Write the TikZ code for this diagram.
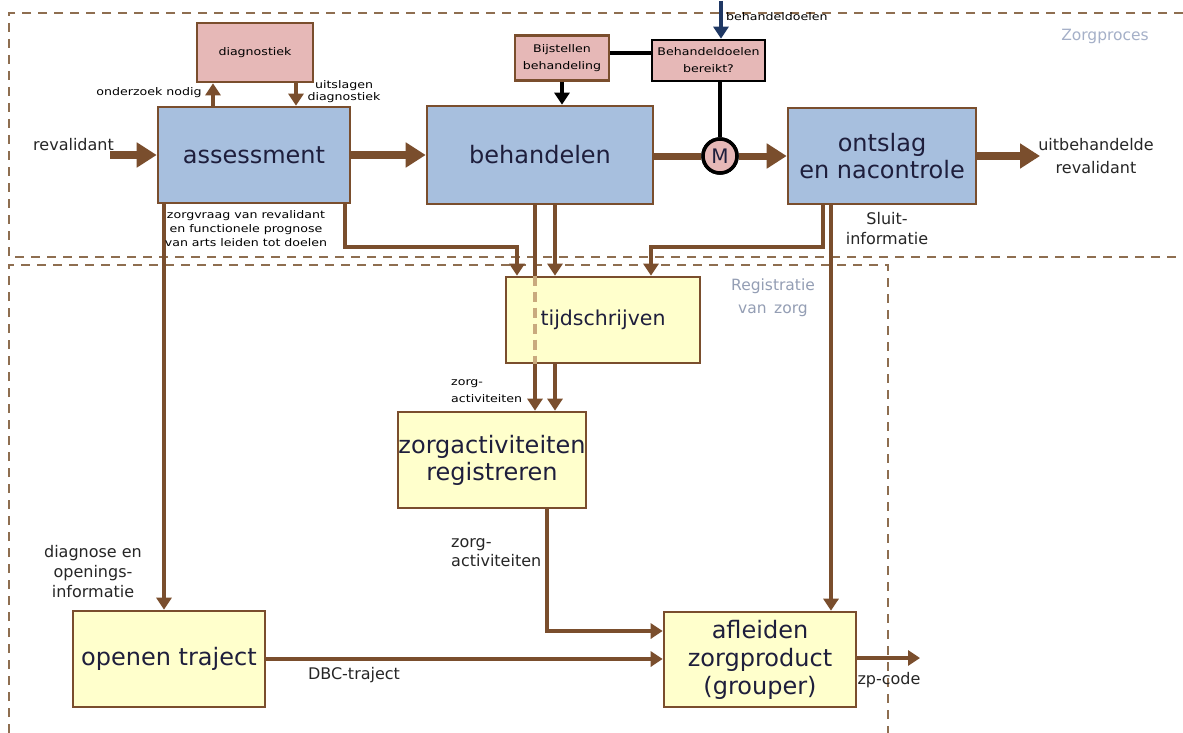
\documentclass[tikz,border=0pt]{standalone}
\usepackage{fontspec}
\setmainfont{DejaVu Sans}
\newfontfamily\tinyf[FakeStretch=1.2]{DejaVu Sans}
\usetikzlibrary{arrows.meta,calc}
\definecolor{brn}{HTML}{7A4E2D}
\definecolor{dshc}{HTML}{8E6E50}
\definecolor{bluef}{HTML}{A7BFDE}
\definecolor{pinkf}{HTML}{E6B8B7}
\definecolor{yelf}{HTML}{FFFFCC}
\definecolor{bigtxt}{HTML}{1E1E3C}
\definecolor{navy}{HTML}{1F3864}
\definecolor{lbl}{HTML}{A5B0C8}
\definecolor{tanc}{HTML}{C9AA7E}
\begin{document}
\begin{tikzpicture}[x=1pt,y=-1pt,
  box/.style={draw=brn, line width=2.6pt, inner sep=0pt, align=center, text=bigtxt, font=\fontsize{24}{27}\selectfont},
  bluebox/.style={box, fill=bluef},
  yelbox/.style={box, fill=yelf},
  pinkbox/.style={draw=brn, line width=2.6pt, fill=pinkf, inner sep=0pt, align=center, font=\tinyf\fontsize{10.5}{17}\selectfont},
  conn/.style={draw=brn, line width=4.5pt},
  tip/.style={-{Triangle[length=12pt,width=15pt]}},
  big/.style={draw=brn, line width=8pt, -{Triangle[length=20pt,width=24pt]}},
  blk/.style={draw=black, line width=4.5pt},
  dashbox/.style={draw=dshc, line width=2.2pt, dash pattern=on 9pt off 7pt},
  med/.style={font=\fontsize{16}{20}\selectfont, text=black!85, inner sep=0pt, align=center},
  tiny/.style={font=\tinyf\fontsize{10.5}{14}\selectfont, inner sep=0pt, align=center},
  grp/.style={font=\fontsize{15.5}{23}\selectfont, inner sep=0pt, align=center},
]
\useasboundingbox[fill=white] (0,0) rectangle (1183,733);

% dashed group frames
\coordinate (zpTR) at (1183,13);
\coordinate (zpTL) at (9,13);
\coordinate (zpBL) at (9,257);
\coordinate (zpBR) at (1183,257);
\draw[dashbox] (zpTR) -- (zpTL) -- (zpBL) -- (zpBR);
\coordinate (rgBL) at (9,733);
\coordinate (rgTL) at (9,265);
\coordinate (rgTR) at (888,265);
\coordinate (rgBR) at (888,733);
\draw[dashbox] (rgBL) -- (rgTL) -- (rgTR) -- (rgBR);
\node[grp, text=lbl] (lzorgproces) at (1105,36) {Zorgproces};
\node[grp, text=lbl!90!black, font=\fontsize{15.5}{23}\selectfont] (lregistratie) at (773,298) {Registratie\\van\, zorg};

% helper x/y positions
\coordinate (x164) at (164,0);
\coordinate (x213) at (213,0);
\coordinate (x296) at (296,0);
\coordinate (x345) at (345,0);
\coordinate (x517) at (517,0);
\coordinate (x535) at (535,0);
\coordinate (x555) at (555,0);
\coordinate (x547) at (547,0);
\coordinate (x651) at (651,0);
\coordinate (x823) at (823,0);
\coordinate (x831) at (831,0);
\coordinate (y247) at (0,247);
\coordinate (y631) at (0,631);
\coordinate (y53) at (0,53);

% main nodes
\node[bluebox, minimum width=192pt, minimum height=96pt] (assess) at (254,155) {assessment};
\node[bluebox, minimum width=226pt, minimum height=98pt] (behand) at (540,155) {behandelen};
\node[bluebox, minimum width=188pt, minimum height=96pt] (ontslag) at (882,156) {ontslag\\en nacontrole};
\node[pinkbox, minimum width=116pt, minimum height=59pt] (diag) at (255,52.5) {diagnostiek};
\node[pinkbox, minimum width=94pt, minimum height=45pt] (bijst) at (562,58) {Bijstellen\\behandeling};
\node[pinkbox, draw=black, minimum width=113pt, minimum height=41pt] (bereikt) at (708.5,60.5) {Behandeldoelen\\bereikt?};
\node[yelbox, minimum width=188pt, minimum height=96pt] (zreg) at (492,460) {zorgactiviteiten\\registreren};
\node[yelbox, minimum width=192pt, minimum height=96pt] (openen) at (169,659) {openen traject};
\node[yelbox, minimum width=192pt, minimum height=95pt, font=\fontsize{24}{28}\selectfont] (afl) at (760,659.5) {afleiden\\zorgproduct\\(grouper)};

% line behind tijdschrijven
\draw[conn, tip] (x535 |- behand.south) -- (x535 |- zreg.north);
\node[yelbox, minimum width=194pt, minimum height=86pt, font=\fontsize{20.5}{24}\selectfont] (tijd) at (603,320) {tijdschrijven};
\draw[tanc, line width=4.5pt, dash pattern=on 10pt off 6pt] (x535 |- tijd.north) -- (x535 |- tijd.south);

% top process flow
\coordinate (rin) at (110,155);
\draw[big] (rin) -- (rin -| assess.west);
\draw[big] (assess) -- (behand);
\node[circle, draw=black, line width=3.5pt, fill=pinkf, minimum size=34pt, inner sep=0pt, font=\fontsize{20}{20}\selectfont, text=bigtxt] (M) at (720,156) {M};
\draw[draw=brn, line width=7pt] (behand.east |- M) -- (M);
\draw[draw=brn, line width=7pt, -{Triangle[length=20pt,width=24pt]}] (M) -- (M -| ontslag.west);
\coordinate (rout) at (1040,156);
\draw[big] (ontslag) -- (rout);

% diagnostiek loop
\draw[conn, tip] (x213 |- assess.north) -- (x213 |- diag.south);
\draw[conn, tip] (x296 |- diag.south) -- (x296 |- assess.north);

% behandeldoelen control
\draw[blk, -{Triangle[length=12pt,width=15pt]}] (bijst.south) -- (bijst.south |- behand.north);
\draw[blk] (bijst.east |- y53) -- (bereikt.west |- y53);
\draw[blk] (M |- bereikt.south) -- (M);
\node[circle, draw=black, line width=3.5pt, fill=pinkf, minimum size=34pt, inner sep=0pt, font=\fontsize{20}{20}\selectfont, text=bigtxt] at (M) {M};
\coordinate (bdin) at (721,1);
\draw[navy, line width=3.5pt, -{Triangle[length=12pt,width=15pt]}] (bdin) -- (bdin |- bereikt.north);

% registration connectors
\draw[conn, tip] (x164 |- assess.south) -- (x164 |- openen.north);
\draw[conn, tip] (x345 |- assess.south) -- (x345 |- y247) -- (x517 |- y247) -- (x517 |- tijd.north);
\draw[conn, tip] (x555 |- behand.south) -- (x555 |- tijd.north);
\draw[conn, tip] (x555 |- tijd.south) -- (x555 |- zreg.north);
\draw[conn, tip] (x823 |- ontslag.south) -- (x823 |- y247) -- (x651 |- y247) -- (x651 |- tijd.north);
\draw[conn, tip] (x831 |- ontslag.south) -- (x831 |- afl.north);
\draw[conn, tip] (x547 |- zreg.south) -- (x547 |- y631) -- (afl.west |- y631);
\draw[conn, tip] (openen.east) -- (openen.east -| afl.west);
\coordinate (zpout) at (920,658);
\draw[conn, tip] (afl.east |- zpout) -- (zpout);

% labels
\node[med, anchor=west] (lrev) at (33,145) {revalidant};
\node[med, font=\fontsize{16}{23}\selectfont] (lout) at (1096,156) {uitbehandelde\\revalidant};
\node[med] (lsluit) at (887,229) {Sluit-\\informatie};
\node[med] (ldiagn) at (93,572) {diagnose en\\openings-\\informatie};
\node[med] (ldbc) at (354,675) {DBC-traject};
\node[med] (lzp) at (889,680) {zp-code};
\node[med, align=left, anchor=west, font=\fontsize{16}{19}\selectfont] (lzorg2) at (451,553) {zorg-\\activiteiten};
\node[tiny] (londer) at (149,93) {onderzoek nodig};
\node[tiny, font=\tinyf\fontsize{10.5}{12}\selectfont] (luitsl) at (344,92) {uitslagen\\diagnostiek};
\node[tiny] (lzv) at (246,229) {zorgvraag van revalidant\\en functionele prognose\\van arts leiden tot doelen};
\node[tiny, align=left, anchor=west, font=\tinyf\fontsize{10.5}{17}\selectfont] (lzorg1) at (451,391) {zorg-\\activiteiten};
\node[tiny, anchor=west] (lbeh) at (726,17) {behandeldoelen};
\end{tikzpicture}
\end{document}
